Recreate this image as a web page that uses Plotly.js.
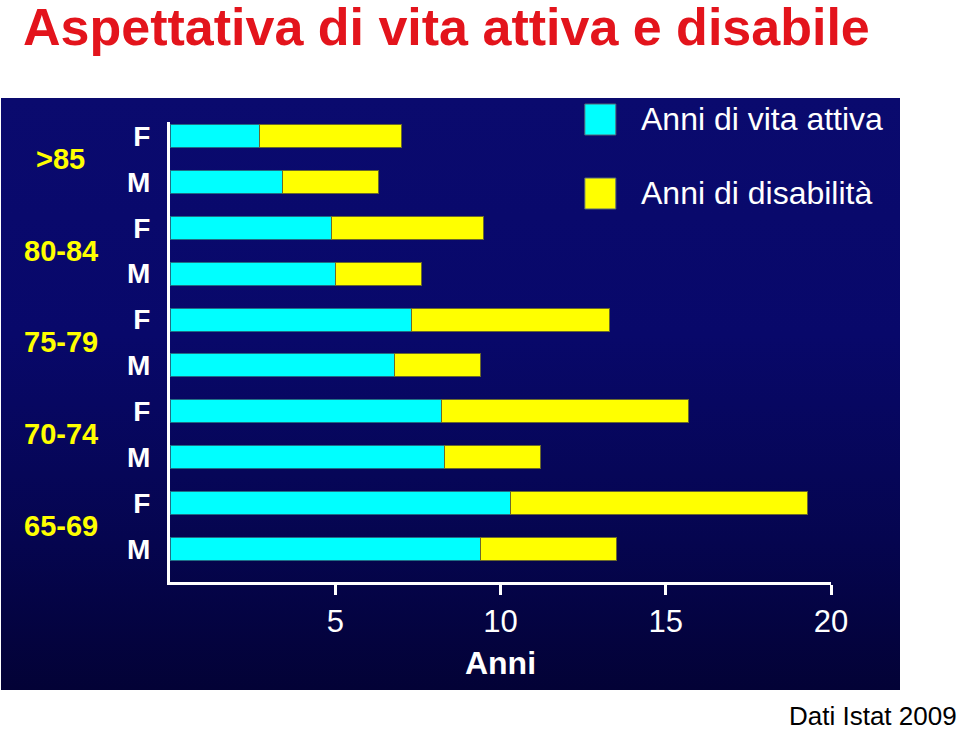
<!DOCTYPE html>
<html>
<head>
<meta charset="utf-8">
<script src="https://cdn.plot.ly/plotly-3.0.1.min.js"></script>
<style>
  html, body { margin: 0; padding: 0; background: #ffffff; }
  #wrap { position: relative; width: 960px; height: 731px; overflow: hidden; }
  #panel { position: absolute; left: 1px; top: 98px; width: 899px; height: 592px;
           background: linear-gradient(to bottom, #0a0a6e 0%, #08086a 40%, #05054f 75%, #030236 100%); }
  #chart { position: absolute; left: 0; top: 0; width: 960px; height: 731px; }
</style>
</head>
<body>
<div id="wrap">
  <div id="panel"></div>
  <div id="chart"></div>
</div>
<script>
// Data (top to bottom as in the picture)
const ageGroups = [">85", "80-84", "75-79", "70-74", "65-69"];
const sexes = ["F", "M"];
const categories = [">85 F", ">85 M", "80-84 F", "80-84 M", "75-79 F", "75-79 M", "70-74 F", "70-74 M", "65-69 F", "65-69 M"];
const sexLabels = ["F", "M", "F", "M", "F", "M", "F", "M", "F", "M"];
const activeYears = [2.7, 3.4, 4.9, 5.0, 7.3, 6.8, 8.2, 8.3, 10.3, 9.4];
const disabledYears = [4.3, 2.9, 4.6, 2.6, 6.0, 2.6, 7.5, 2.9, 9.0, 4.1];
const seriesNames = ["Anni di vita attiva", "Anni di disabilità"];
const xTicks = [5, 10, 15, 20];

const cyan = "#00ffff";
const yellow = "#ffff00";

const traces = [
  {
    type: "bar", orientation: "h", name: seriesNames[0],
    y: categories, x: activeYears,
    marker: { color: cyan, line: { color: "#1e6f86", width: 1 } },
    width: 0.5, showlegend: false, hoverinfo: "x+y"
  },
  {
    type: "bar", orientation: "h", name: seriesNames[1],
    y: categories, x: disabledYears,
    marker: { color: yellow, line: { color: "#6b6a2a", width: 1 } },
    width: 0.5, showlegend: false, hoverinfo: "x+y"
  }
];

const annotations = [];
// Age group labels (between the F and M rows of each group)
ageGroups.forEach((g, i) => {
  annotations.push({
    xref: "paper", yref: "y", x: -0.165, y: 2 * i + 0.5,
    xanchor: "center", yanchor: "middle", showarrow: false,
    text: "<b>" + g + "</b>",
    font: { family: "Liberation Sans, Arial, sans-serif", size: 29, color: "#ffff00" }
  });
});
// Custom legend labels
const legendColors = [cyan, yellow];
const legendY = [119, 193];
const shapes = [];
seriesNames.forEach((n, i) => {
  annotations.push({
    xref: "paper", yref: "paper",
    x: (639 - 170.5) / 660.5, y: (582 - legendY[i]) / 460,
    xanchor: "left", yanchor: "middle", showarrow: false,
    text: n,
    font: { family: "Liberation Sans, Arial, sans-serif", size: 32, color: "#ffffff" }
  });
  shapes.push({
    type: "rect", xref: "paper", yref: "paper",
    x0: (585 - 170.5) / 660.5, x1: (616 - 170.5) / 660.5,
    y0: (582 - (legendY[i] - 15)) / 460, y1: (582 - (legendY[i] + 16)) / 460,
    fillcolor: legendColors[i], line: { color: "#556677", width: 1 }
  });
});
// Source note
annotations.push({
  xref: "paper", yref: "paper", x: (959 - 170.5) / 660.5, y: (582 - 733) / 460,
  xanchor: "right", yanchor: "bottom", showarrow: false,
  text: "Dati Istat 2009",
  font: { family: "Liberation Sans, Arial, sans-serif", size: 26, color: "#000000" }
});

const layout = {
  width: 960, height: 731,
  paper_bgcolor: "rgba(0,0,0,0)", plot_bgcolor: "rgba(0,0,0,0)",
  margin: { l: 170, r: 129, t: 122, b: 149, pad: 0 },
  barmode: "stack",
  title: {
    text: "<b>Aspettativa di vita attiva e disabile</b>",
    x: 23 / 960, xanchor: "left", xref: "container",
    y: 1 - 27 / 731, yanchor: "middle", yref: "container",
    font: { family: "Liberation Sans, Arial, sans-serif", size: 52, color: "#e3141c" }
  },
  xaxis: {
    range: [0, 20], tickvals: xTicks, ticktext: xTicks.map(String),
    showgrid: false, zeroline: false,
    showline: true, linecolor: "#ffffff", linewidth: 3,
    ticks: "outside", ticklen: 10, tickwidth: 3, tickcolor: "#ffffff",
    tickfont: { family: "Liberation Sans, Arial, sans-serif", size: 31, color: "#ffffff" },
    title: { text: "<b>Anni</b>", standoff: 14,
             font: { family: "Liberation Sans, Arial, sans-serif", size: 32, color: "#ffffff" } }
  },
  yaxis: {
    type: "category", categoryorder: "array", categoryarray: categories,
    range: [9.72, -0.305],
    tickvals: categories, ticktext: sexLabels.map(s => "<b>" + s + "</b>"),
    showgrid: false, zeroline: false,
    showline: true, linecolor: "#ffffff", linewidth: 3,
    ticks: "", ticklabelstandoff: 11,
    tickfont: { family: "Liberation Sans, Arial, sans-serif", size: 28, color: "#ffffff" }
  },
  annotations: annotations,
  shapes: shapes,
  showlegend: false
};

Plotly.newPlot("chart", traces, layout, { displayModeBar: false, staticPlot: true });
</script>
</body>
</html>
